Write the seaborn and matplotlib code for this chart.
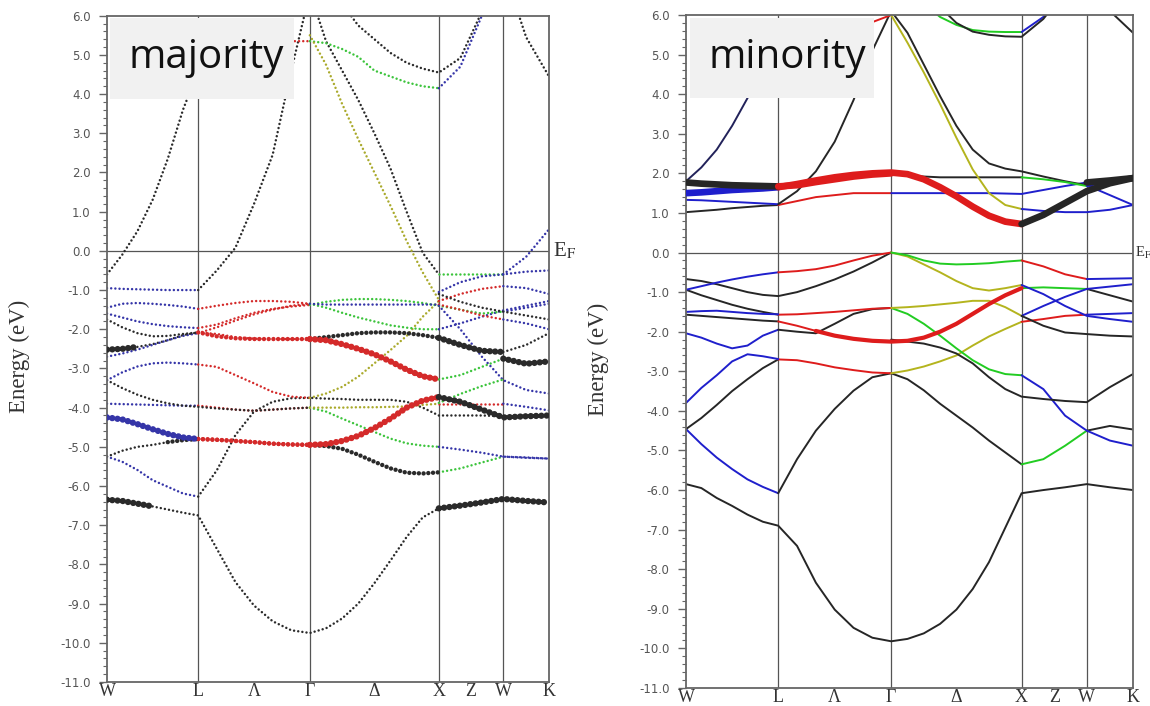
import numpy as np
import pandas as pd
import matplotlib
matplotlib.use("Agg")
import matplotlib.pyplot as plt
import seaborn as sns
from matplotlib.patches import Rectangle
from matplotlib.ticker import MultipleLocator

# ---------------- path / axes data ----------------
NODE_K = [0.0, 0.707, 1.573, 2.573, 3.073, 3.427]       # W L G X W K
NODE_DIV = [6, 6, 8, 3, 2]                               # samples per segment
TICK_LABELS = ["W", "L", "Λ", "Γ", "Δ", "X", "Z", "W", "K"]
Y_TICKS = [6.0, 5.0, 4.0, 3.0, 2.0, 1.0, 0.0, -1.0, -2.0, -3.0, -4.0,
           -5.0, -6.0, -7.0, -8.0, -9.0, -10.0, -11.0]
N = None

# ---------------- majority bands (values at the 26 k samples) ----------------
b1 = [-6.35,-6.38,-6.45,-6.52,-6.60,-6.68,-6.75, -7.6,-8.45,-9.05,-9.45,-9.68,-9.75,
      -9.63,-9.38,-9.0,-8.48,-7.9,-7.3,-6.8,-6.57, -6.5,-6.42,-6.33, -6.38,-6.42]
b2 = [-5.25,-5.38,-5.59,-5.85,-6.02,-6.19,-6.27, -5.6,-4.7,-4.1,-3.85,-3.76,-3.75,
      -3.77,-3.78,-3.8,-3.8,-3.8,-3.85,-4.0,-4.2, -4.2,-4.2,-4.22, -4.2,-4.2]
b3 = [-4.25,-4.3,-4.42,-4.55,-4.67,-4.76,-4.8, -4.82,-4.85,-4.88,-4.92,-4.94,-4.95,
      -4.93,-4.85,-4.72,-4.52,-4.28,-4.0,-3.82,-3.73, -3.85,-4.05,-4.25, -4.22,-4.2]
b4 = [-5.25,-5.1,-5.0,-4.95,-4.88,-4.83,-4.8, -4.82,-4.85,-4.88,-4.92,-4.94,-4.95,
      -4.98,-5.05,-5.2,-5.38,-5.55,-5.66,-5.68,-5.65, -5.55,-5.4,-5.25, -5.27,-5.3]
b5 = [-3.9,-3.91,-3.92,-3.93,-3.94,-3.95,-3.95, -4.0,-4.05,-4.08,-4.05,-4.02,-4.0,
      -4.1,-4.28,-4.45,-4.62,-4.79,-4.91,-4.97,-5.0, -5.07,-5.15,-5.25, -5.28,-5.3]
b6 = [-3.3,-3.5,-3.67,-3.8,-3.89,-3.95,-3.98, -4.02,-4.05,-4.08,-4.05,-4.02,-4.0,
      -4.0,-4.0,-3.99,-3.99,-3.98,-3.97,-3.93,-3.9, -3.9,-3.9,-3.9, -3.98,-4.07]
b7 = [-3.3,-3.1,-2.95,-2.87,-2.85,-2.87,-2.9, -2.96,-3.17,-3.38,-3.6,-3.72,-3.75,
      -3.64,-3.47,-3.21,-2.87,-2.53,-2.17,-1.68,-1.28, -1.1,-0.97,-0.9, -0.95,-1.1]
b8 = [-2.52,-2.5,-2.45,-2.38,-2.28,-2.15,-2.08, -2.18,-2.23,-2.25,-2.25,-2.25,-2.25,
      -2.28,-2.38,-2.5,-2.64,-2.82,-3.03,-3.2,-3.28, -3.17,-2.96,-2.75, -2.88,-2.82]
b9 = [-2.7,-2.62,-2.52,-2.4,-2.28,-2.17,-2.1, -1.95,-1.78,-1.62,-1.5,-1.4,-1.35,
      -1.45,-1.58,-1.7,-1.8,-1.9,-1.96,-2.0,-2.0, -1.85,-1.68,-1.52, -1.4,-1.28]
b10 = [-1.75,-1.95,-2.1,-2.18,-2.17,-2.12,-2.08, -2.12,-2.2,-2.24,-2.25,-2.25,-2.25,
       -2.2,-2.15,-2.1,-2.08,-2.08,-2.1,-2.15,-2.22, -2.4,-2.55,-2.58, -2.4,-2.1]
b11 = [-1.6,-1.7,-1.8,-1.87,-1.92,-1.95,-1.97, -1.88,-1.72,-1.58,-1.48,-1.42,-1.38,
       -1.3,-1.25,-1.23,-1.23,-1.25,-1.28,-1.33,-1.4, -1.5,-1.6,-1.55, -1.45,-1.35]
b12 = [-1.45,-1.35,-1.33,-1.35,-1.38,-1.42,-1.48, -1.4,-1.33,-1.28,-1.28,-1.3,-1.35,
       -1.37,-1.37,-1.37,-1.37,-1.37,-1.37,-1.37,-1.37, -1.5,-1.65,-1.75, -1.85,-2.0]
b13 = [-0.95,-0.97,-0.98,-0.99,-1.0,-1.0,-1.0, -0.5,0.08,1.2,2.45,4.6,6.6,
       5.35,4.6,3.85,3.0,2.1,1.0,-0.05,-0.6, -0.6,-0.6,-0.6, -0.15,0.55]
b14 = [-0.6,-0.1,0.5,1.3,2.35,3.6,4.6, 5.0,5.2,5.3,5.35,5.35,5.35,
       5.3,5.15,4.95,4.6,4.45,4.3,4.2,4.15, 4.7,6.0,7.5, 7.5,7.5]
b15 = [N]*12 + [8.0, 7.2,6.3,5.75,5.4,5.05,4.8,4.65,4.55, 4.92,6.1,7.2, 5.45,4.45]
b16 = [N]*20 + [-1.05, -0.8,-0.65,-0.6, -0.53,-0.5]
b17 = [N]*20 + [-1.1, -1.3,-1.45,-1.55, -1.65,-1.75]
b18 = [N]*20 + [-1.4, -2.0,-2.7,-3.3, -3.55,-3.64]
b19 = [N]*20 + [-3.88, -3.65,-3.45,-3.28, N, N]
b20 = [N]*12 + [5.5, 4.75,3.75,2.85,2.0,1.15,0.25,-0.55,-1.25] + [N]*5

MAJ_BANDS = [b1, b2, b3, b4, b5, b6, b7, b8, b9, b10, b11, b12, b13, b14, b15,
             b16, b17, b18, b19, b20]
# character colour per k-interval: lower = thin, x/v/q = medium, upper = fat
MAJ_CODES = ["KKKkkk|kkkkkk|kkkkkkkk|KKK|KK", "bbbbbb|kkkkkk|kkkkkkkk|kkk|kk",
             "BBBBBB|qqqqqq|RRRRRRRR|KKK|KK", "kkkkxx|qqqqqq|xxxxxxxx|ggg|bb",
             "bbbbbb|rrrrrr|gggggggg|bbb|bb", "kkkkkk|kkkkkk|yyyyyyyy|rrr|bb",
             "bbbbbb|rrrrrr|yyyyyyyy|rrr|bb", "KKkkkk|qqqqqq|RRRRRRRR|ggg|KK",
             "bbbbbb|rrrrrr|gggggggg|bbb|bb", "kkkkkk|rrrrrr|xxxxxxxx|KKK|kk",
             "bbbbbb|rrrrrr|gggggggg|ggg|bb", "bbbbbb|rrrrrr|bbbbbbbb|rrr|bb",
             "bbbbbb|kkkkkk|kkkkkkkk|ggg|bb", "kkkkkk|rrrrrr|gggggggg|bbb|bb",
             "k", "b", "k", "b", "g", "y"]

# ---------------- minority bands ----------------
m1 = [-5.85,-5.95,-6.2,-6.4,-6.62,-6.8,-6.9, -7.41,-8.34,-9.02,-9.48,-9.73,-9.82,
      -9.76,-9.62,-9.38,-9.02,-8.5,-7.82,-6.95,-6.08, -6.0,-5.93,-5.85, -5.93,-6.0]
m2 = [-4.46,-4.84,-5.18,-5.47,-5.73,-5.92,-6.08, -5.22,-4.5,-3.95,-3.49,-3.15,-3.05,
      -3.2,-3.48,-3.82,-4.12,-4.42,-4.75,-5.05,-5.35, -5.22,-4.88,-4.5, -4.38,-4.47]
m3 = [-4.46,-4.18,-3.85,-3.5,-3.2,-2.92,-2.7, -2.72,-2.8,-2.9,-2.97,-3.03,-3.05,
      -2.98,-2.88,-2.75,-2.6,-2.35,-2.12,-1.93,-1.75, -1.68,-1.6,-1.57, -1.55,-1.53]
m4 = [-3.8,-3.42,-3.1,-2.75,-2.57,-2.62,-2.69] + [N]*19
m5 = [-2.04,-2.15,-2.3,-2.42,-2.35,-2.1,-1.95, -2.0,-2.04,-1.8,-1.55,-1.43,-1.4,
      -1.55,-1.8,-2.1,-2.42,-2.72,-2.95,-3.07,-3.1, -3.45,-4.12,-4.5, -4.75,-4.88]
m6 = [N]*12 + [-2.2, -2.25,-2.3,-2.4,-2.55,-2.8,-3.15,-3.45,-3.64, -3.7,-3.75,-3.78, -3.4,-3.07]
m7 = [-1.57,-1.6,-1.63,-1.66,-1.69,-1.72,-1.74, -1.85,-1.98,-2.1,-2.18,-2.23,-2.25,
      -2.23,-2.15,-2.0,-1.8,-1.55,-1.3,-1.08,-0.9, -0.88,-0.9,-0.92, -1.08,-1.24]
m8 = [-0.94,-1.08,-1.2,-1.32,-1.42,-1.5,-1.57, -1.56,-1.53,-1.5,-1.46,-1.42,-1.4,
      -1.38,-1.35,-1.31,-1.27,-1.22,-1.22,-1.38,-1.6, -1.35,-1.12,-0.92, -0.86,-0.8]
m9 = [-1.5,-1.48,-1.47,-1.5,-1.53,-1.55,-1.56] + [N]*13 + [-1.6, -1.85,-2.02,-2.06, -2.1,-2.12]
m10 = [-0.67,-0.72,-0.8,-0.9,-1.0,-1.07,-1.1, -1.0,-0.85,-0.68,-0.48,-0.25,0.0,
       -0.1,-0.3,-0.5,-0.72,-0.9,-0.96,-0.9,-0.82, -1.05,-1.35,-1.6, -1.68,-1.75]
m11 = [-0.94,-0.85,-0.76,-0.68,-0.61,-0.55,-0.5, -0.47,-0.42,-0.33,-0.2,-0.08,0.0,
       -0.07,-0.2,-0.28,-0.3,-0.29,-0.27,-0.23,-0.2, -0.35,-0.55,-0.67, -0.66,-0.65]
m12 = [1.02,1.05,1.08,1.12,1.15,1.18,1.2, 1.3,1.4,1.45,1.5,1.5,1.5,
       1.5,1.5,1.5,1.5,1.5,1.5,1.49,1.48, 1.58,1.68,1.77, 1.82,1.88]
m13 = [1.33,1.32,1.3,1.28,1.26,1.24,1.22, 1.55,2.05,2.8,3.85,5.1,6.1,
       5.55,4.75,3.95,3.2,2.6,2.25,2.12,2.05, 1.92,1.8,1.7, 1.45,1.2]
m14 = [1.5,1.52,1.55,1.58,1.6,1.62,1.65, 1.73,1.82,1.9,1.96,2.0,2.02,
       1.98,1.85,1.65,1.42,1.16,0.93,0.78,0.72, 0.95,1.25,1.55, 1.75,1.88]
m15 = [1.77,1.74,1.72,1.7,1.69,1.68,1.67, 1.7,1.78,1.85,1.92,1.97,2.0,
       1.95,1.92,1.9,1.9,1.9,1.9,1.9,1.9, 1.85,1.78,1.68, 1.78,1.88]
m16 = [1.8,2.15,2.6,3.2,3.9,4.6,5.4] + [N]*19
m17 = [N]*10 + [5.7,5.82,6.0, 5.3,4.55,3.75,2.9,2.1,1.5,1.2,1.1, 1.05,1.02,1.02, 1.08,1.2]
m18 = [N]*12 + [7.5, 6.8,6.3,5.95,5.75,5.62,5.58,5.57,5.57, 5.95,6.6,N, N,N]
m19 = [N]*12 + [8.0, 7.5,6.8,6.2,5.8,5.58,5.5,5.46,5.45, 5.9,6.6,7.5, 6.1,5.55]

MIN_BANDS = [m1, m2, m3, m4, m5, m6, m7, m8, m9, m10, m11, m12, m13, m14, m15,
             m16, m17, m18, m19]
MIN_CODES = ["k", "bbbbbb|kkkkkk|kkkkkkkk|ggg|kk", "kkkkkk|rrrrrr|yyyyyyyy|rrr|bb",
             "b", "bbbbbb|kkkkkk|gggggggg|bbb|bb", "k",
             "kkkkkk|rrqqqq|qqqqqqqq|ggg|kk", "kkkkkk|rrrrrr|yyyyyyyy|bbb|bb",
             "bbbbbb|rrrrrr|yyyyyyyy|kkk|kk", "kkkkkk|kkkkkk|yyyyyyyy|bbb|bb",
             "bbbbbb|rrrrrr|gggggggg|rrr|bb", "kkkkkk|rrrrrr|bbbbbbbb|bbb|KK",
             "bbbbbb|kkkkkk|kkkkkkkk|kkk|bb", "BBBBBB|RRRRRR|RRRRRRRR|KKK|KK",
             "KKKKKK|RRRRRR|kkkkkkkk|ggg|bb", "n",
             "rrrrrr|rrrrrr|yyyyyyyy|bbb|bb", "gggggggggggggggggggg|bbb|bb", "k"]

# code letter -> (colour key, width level)
CODE_MAP = {"k": ("k", 0), "b": ("b", 0), "r": ("r", 0), "g": ("g", 0),
            "y": ("y", 0), "n": ("n", 0), "x": ("k", 1), "v": ("b", 1),
            "q": ("r", 1), "K": ("k", 2), "B": ("b", 2), "R": ("r", 2)}
MAJ_COL = {"k": "#2a2a2a", "b": "#3535a8", "r": "#d42a2a", "g": "#3cc43c",
           "y": "#aaaa2c", "n": "#2a2a60"}
MIN_COL = {"k": "#262626", "b": "#1f1fcc", "r": "#de1c1c", "g": "#22cc22",
           "y": "#b4b41e", "n": "#22225a"}

# ---------------- build long table ----------------
kk = [NODE_K[0]]
for a, b, n in zip(NODE_K[:-1], NODE_K[1:], NODE_DIV):
    kk += list(np.linspace(a, b, n + 1)[1:])
KGRID = np.array(kk)
NI = len(KGRID) - 1


def segments(vals, code):
    code = code.replace("|", "")
    if len(code) == 1:
        code = code * NI
    v = np.array([np.nan if x is None else x for x in vals], float)
    runs = []
    cur = None
    for i in range(NI):
        if np.isnan(v[i]) or np.isnan(v[i + 1]):
            cur = None
            continue
        c = code[i]
        if cur is not None and cur[0] == c and cur[2] == i:
            cur[2] = i + 1
        else:
            cur = [c, i, i + 1]
            runs.append(cur)
    return [(c, s, e) for c, s, e in runs]


rows = []
sid = 0
for panel, bands, codes in (("maj", MAJ_BANDS, MAJ_CODES), ("min", MIN_BANDS, MIN_CODES)):
    for vals, code in zip(bands, codes):
        for c, s, e in segments(vals, code):
            col, lev = CODE_MAP[c]
            for i in range(s, e + 1):
                rows.append(dict(panel=panel, seg=f"s{sid}", k=KGRID[i], E=vals[i],
                                 col=col, lev=lev))
            sid += 1
df = pd.DataFrame(rows)

# ---------------- figure ----------------
sns.set_theme(style="white")
plt.rcParams["lines.scale_dashes"] = False
plt.rcParams["mathtext.fontset"] = "stix"
plt.rcParams["font.family"] = ["DejaVu Sans"]

W, H = 1150, 706
fig = plt.figure(figsize=(W / 100, H / 100), dpi=100)
ax_l = fig.add_axes([107 / W, 1 - 682 / H, 442 / W, 666.3 / H])
ax_r = fig.add_axes([686 / W, 1 - 688 / H, 447 / W, 673 / H])

xt = [NODE_K[0], NODE_K[1], (NODE_K[1] + NODE_K[2]) / 2, NODE_K[2],
      (NODE_K[2] + NODE_K[3]) / 2, NODE_K[3], (NODE_K[3] + NODE_K[4]) / 2,
      NODE_K[4], NODE_K[5]]

MAJ_LW = [1.8, 3.2, 4.6]
MAJ_GAP = [3.0, 3.4, 3.8]
MIN_LW = [1.4, 3.0, 4.8]

for ax, panel, cmap in ((ax_l, "maj", MAJ_COL), (ax_r, "min", MIN_COL)):
    for lev in (0, 1, 2):
        sub = df[(df.panel == panel) & (df.lev == lev)]
        if sub.empty:
            continue
        pal = {s: cmap[c] for s, c in zip(sub.seg, sub.col)}
        if panel == "maj":
            kw = dict(linewidth=MAJ_LW[lev],
                      linestyle=(0, (0.01, MAJ_GAP[lev])),
                      dash_capstyle="round")
        else:
            kw = dict(linewidth=MIN_LW[lev], solid_capstyle="round")
        sns.lineplot(data=sub, x="k", y="E", hue="seg", palette=pal,
                     estimator=None, sort=False, legend=False, ax=ax,
                     zorder=2 + lev, **kw)

    ax.set_xlim(NODE_K[0], NODE_K[-1])
    ax.set_ylim(-11, 6)
    for kv in NODE_K[1:-1]:
        ax.axvline(kv, color="#555555", lw=0.9, zorder=1)
    ax.axhline(0, color="#555555", lw=0.9, zorder=1)
    ax.set_yticks(Y_TICKS)
    ax.set_yticklabels([f"{t:.1f}" for t in Y_TICKS])
    ax.yaxis.set_minor_locator(MultipleLocator(0.2))
    ax.tick_params(axis="y", which="major", left=True, length=5.8, width=1.0,
                   color="#666666", labelsize=8.5, labelcolor="#555555", pad=6)
    ax.tick_params(axis="y", which="minor", left=True, length=3, width=0.8,
                   color="#666666")
    for lab in ax.get_yticklabels():
        lab.set_family("DejaVu Sans")
    ax.set_xticks(xt)
    ax.set_xticklabels(TICK_LABELS, family="Liberation Serif", fontsize=13,
                       color="#333333")
    ax.tick_params(axis="x", length=0, pad=1)
    for sp in ax.spines.values():
        sp.set_color("#666666")
        sp.set_linewidth(1.3)
    ax.set_xlabel("")
    ax.set_ylabel("Energy (eV)", family="Liberation Serif", fontsize=16.5,
                  color="#333333")

ax_l.text(1.009, 0.0, r"E$_{\mathrm{F}}$", transform=ax_l.get_yaxis_transform(),
          ha="left", va="center", family="Liberation Serif", fontsize=15,
          color="#333333", clip_on=False)
ax_r.text(1.004, 0.0, r"E$_{\mathrm{F}}$", transform=ax_r.get_yaxis_transform(),
          ha="left", va="center", family="Liberation Serif", fontsize=10.5,
          color="#333333", clip_on=False)

ax_l.yaxis.set_label_coords(-0.174, 0.488)
ax_r.yaxis.set_label_coords(-0.172, 0.489)

for (x0, y0, x1, y1, tx, label) in ((110, 18, 294, 99, 128, "majority"),
                                    (690, 18, 874, 98, 708, "minority")):
    fig.add_artist(Rectangle((x0 / W, 1 - y1 / H), (x1 - x0) / W, (y1 - y0) / H,
                             transform=fig.transFigure, facecolor="#f1f1f1",
                             edgecolor="none", zorder=5))
    fig.text(tx / W, 1 - 68 / H, label, family="Open Sans", fontsize=29,
             ha="left", va="baseline", color="#111111", zorder=6)

fig.savefig("out.png", dpi=100)
